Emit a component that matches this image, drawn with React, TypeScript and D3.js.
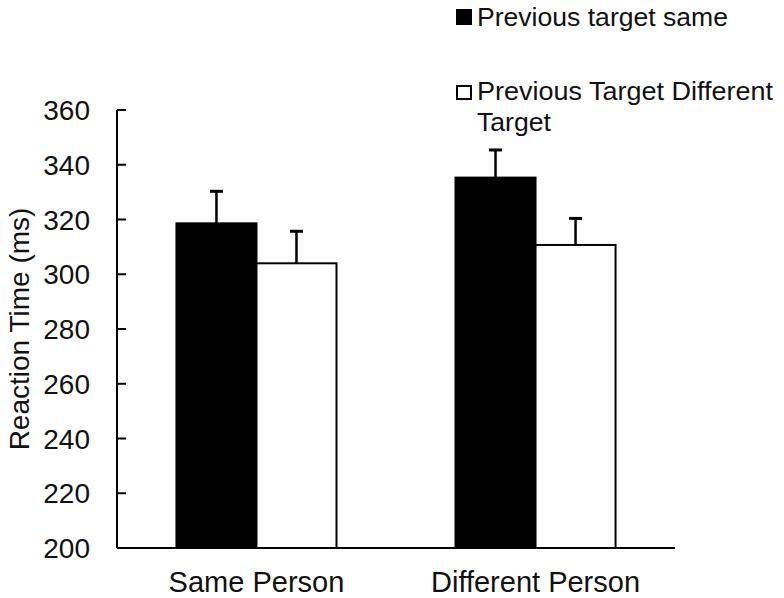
import * as d3 from 'd3';

const WIDTH = 784;
const HEIGHT = 598;
const PLOT = { left: 117, right: 675, top: 110, bottom: 548 };
const FONT = '"Liberation Sans", Arial, sans-serif';

const categories = ['Same Person', 'Different Person'];
const seriesNames = ['Previous target same', 'Previous Target Different Target'];
const sameTargetValues = [318.6, 335.3];
const sameTargetErrors = [11.7, 10.1];
const diffTargetValues = [304.0, 310.7];
const diffTargetErrors = [11.7, 9.7];
const yTicks = [200, 220, 240, 260, 280, 300, 320, 340, 360];

const seriesFills = ['#000', '#fff'];

export default function App() {
  const x0 = d3
    .scaleBand<string>()
    .domain(categories)
    .range([PLOT.left, PLOT.right])
    .paddingInner(0.4265)
    .paddingOuter(0.213);
  const x1 = d3.scaleBand<string>().domain(seriesNames).range([0, x0.bandwidth()]).padding(0);
  const y = d3.scaleLinear().domain([200, 360]).range([PLOT.bottom, PLOT.top]);

  const bars = categories.flatMap((c, i) => [
    { cat: c, series: seriesNames[0], value: sameTargetValues[i], err: sameTargetErrors[i] },
    { cat: c, series: seriesNames[1], value: diffTargetValues[i], err: diffTargetErrors[i] },
  ]);

  return (
    <svg
      width={WIDTH}
      height={HEIGHT}
      style={{ position: 'absolute', left: 0, top: 0, background: '#fff' }}
      fontFamily={FONT}
    >
      {/* y title */}
      <text
        transform={`translate(29,${(PLOT.top + PLOT.bottom) / 2}) rotate(-90)`}
        textAnchor="middle"
        fontSize={28}
        fill="#111"
      >
        Reaction Time (ms)
      </text>

      {/* y ticks + labels (ticks point inward) */}
      {yTicks.map((t) => (
        <g key={t}>
          <line x1={PLOT.left} x2={PLOT.left + 9} y1={y(t)} y2={y(t)} stroke="#000" strokeWidth={2} />
          <text x={90} y={y(t)} dy="0.36em" textAnchor="end" fontSize={28} fill="#111">
            {t}
          </text>
        </g>
      ))}

      {/* bars with upward error bars */}
      {bars.map((b, i) => {
        const bx = (x0(b.cat) ?? 0) + (x1(b.series) ?? 0);
        const bw = x1.bandwidth();
        const cx = bx + bw / 2;
        const si = seriesNames.indexOf(b.series);
        return (
          <g key={i}>
            <line x1={cx} x2={cx} y1={y(b.value)} y2={y(b.value + b.err)} stroke="#000" strokeWidth={2.5} />
            <line x1={cx - 6.5} x2={cx + 6.5} y1={y(b.value + b.err)} y2={y(b.value + b.err)} stroke="#000" strokeWidth={3} />
            <rect
              x={bx}
              y={y(b.value)}
              width={bw}
              height={y(200) - y(b.value)}
              fill={seriesFills[si]}
              stroke="#000"
              strokeWidth={2}
            />
          </g>
        );
      })}

      {/* axes */}
      <line x1={PLOT.left} x2={PLOT.left} y1={PLOT.top} y2={PLOT.bottom} stroke="#000" strokeWidth={2} />
      <line x1={PLOT.left} x2={PLOT.right} y1={PLOT.bottom} y2={PLOT.bottom} stroke="#000" strokeWidth={2} />

      {/* category labels */}
      {categories.map((c) => (
        <text
          key={c}
          x={(x0(c) ?? 0) + x0.bandwidth() / 2}
          y={592}
          textAnchor="middle"
          fontSize={29}
          fill="#111"
        >
          {c}
        </text>
      ))}

      {/* legend */}
      <rect x={456} y={9} width={16} height={16} fill="#000" />
      <text x={477} y={26} fontSize={26} fill="#111" textLength={251} lengthAdjust="spacingAndGlyphs">
        {seriesNames[0]}
      </text>
      <rect x={457} y={86} width={14} height={13} fill="#fff" stroke="#000" strokeWidth={2} />
      <text x={477} y={100} fontSize={26} fill="#111" textLength={296} lengthAdjust="spacingAndGlyphs">
        Previous Target Different
      </text>
      <text x={477} y={131} fontSize={26} fill="#111" textLength={74} lengthAdjust="spacingAndGlyphs">
        Target
      </text>
    </svg>
  );
}
